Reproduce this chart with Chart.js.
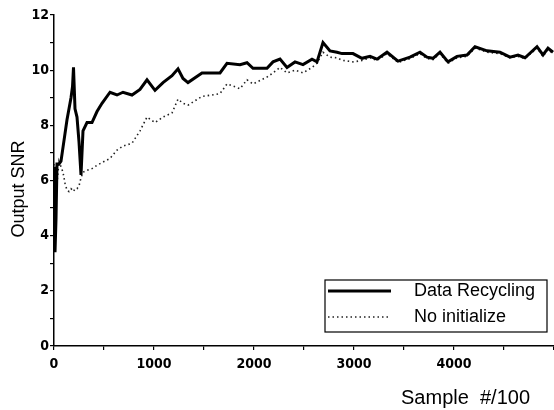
<!DOCTYPE html>
<html>
<head>
<meta charset="utf-8">
<script src="https://cdn.jsdelivr.net/npm/chart.js@4.4.0/dist/chart.umd.min.js"></script>
<style>
  html, body { margin: 0; padding: 0; background: #fff; }
  canvas { display: block; }
</style>
</head>
<body>
<canvas id="snr" width="554" height="410"></canvas>
<script>
// --- data (x = sample #/100) ---
const samples = [0, 10, 20, 30, 50, 70, 90, 110, 130, 150, 170, 185, 195, 210, 230, 250, 270, 290, 330, 380,
  430, 480, 560, 630, 690, 780, 860, 930, 1010, 1090, 1180, 1240, 1290, 1340, 1480, 1580, 1660, 1730, 1860, 1930,
  1990, 2130, 2190, 2260, 2330, 2410, 2490, 2580, 2630, 2690, 2760, 2830, 2880, 2990, 3080, 3160, 3230, 3330, 3440, 3560,
  3660, 3730, 3790, 3860, 3940, 4030, 4130, 4210, 4330, 4460, 4560, 4640, 4710, 4830, 4890, 4940, 4990];

const dataRecycling = [6.5, 3.4, 4.6, 6.6, 6.6, 6.7, 7.2, 7.7, 8.2, 8.6, 9.0, 9.4, 10.1, 8.6, 8.3, 7.4, 6.2, 7.8, 8.1, 8.1,
  8.5, 8.8, 9.2, 9.1, 9.2, 9.1, 9.3, 9.65, 9.27, 9.55, 9.8, 10.05, 9.7, 9.55, 9.9, 9.9, 9.9, 10.25, 10.2, 10.27,
  10.07, 10.07, 10.3, 10.4, 10.1, 10.3, 10.2, 10.4, 10.3, 11.0, 10.7, 10.65, 10.6, 10.6, 10.43, 10.5, 10.4, 10.65, 10.33, 10.47,
  10.65, 10.47, 10.43, 10.65, 10.3, 10.5, 10.55, 10.85, 10.7, 10.65, 10.47, 10.55, 10.45, 10.85, 10.55, 10.8, 10.65];

const noInitialize = [6.6, 5.6, 6.4, 5.9, 6.7, 6.5, 6.3, 5.9, 5.65, 5.6, 5.7, 5.65, 5.6, 5.7, 5.7, 5.8, 6.1, 6.3, 6.37, 6.43,
  6.55, 6.65, 6.8, 7.1, 7.25, 7.35, 7.8, 8.3, 8.1, 8.3, 8.45, 8.95, 8.8, 8.73, 9.05, 9.1, 9.15, 9.5, 9.33, 9.65,
  9.5, 9.75, 9.9, 10.1, 9.9, 10.0, 9.9, 10.1, 10.25, 10.65, 10.47, 10.45, 10.36, 10.3, 10.35, 10.45, 10.35, 10.6, 10.28, 10.42,
  10.6, 10.42, 10.38, 10.6, 10.25, 10.45, 10.5, 10.8, 10.65, 10.6, 10.45, 10.5, 10.42, 10.8, 10.5, 10.75, 10.6];

const seriesNames = ["Data Recycling", "No initialize"];
const xTitle = "Sample  #/100";
const yTitle = "Output SNR";

const tickFont = { family: "'Liberation Sans Narrow', 'Arial Narrow', 'DejaVu Sans Condensed', sans-serif", size: 14, weight: "bold" };

// legend box in the lower right of the plot, axis titles placed by hand
const boxLegend = {
  id: "boxLegend",
  afterDraw(chart) {
    const { ctx, chartArea } = chart;
    const right = chartArea.right - 7, bottom = chartArea.bottom - 14;
    const left = right - 222, top = bottom - 52;
    ctx.save();
    ctx.fillStyle = "#fff";
    ctx.fillRect(left, top, right - left, bottom - top);
    ctx.strokeStyle = "#000";
    ctx.lineWidth = 1.2;
    ctx.strokeRect(left, top, right - left, bottom - top);
    ctx.font = "18px 'Liberation Sans', Arial, sans-serif";
    ctx.textBaseline = "middle";
    ctx.fillStyle = "#000";
    chart.data.datasets.forEach((ds, i) => {
      const y = top + 11 + i * 26;
      ctx.beginPath();
      ctx.setLineDash(ds.borderDash || []);
      ctx.lineWidth = ds.borderWidth;
      ctx.strokeStyle = ds.borderColor;
      ctx.moveTo(left + 3, y);
      ctx.lineTo(left + 66, y);
      ctx.stroke();
      ctx.setLineDash([]);
      ctx.fillText(ds.label, left + 89, y);
    });
    // x axis title
    ctx.font = "20px 'Liberation Sans', Arial, sans-serif";
    ctx.textAlign = "right";
    ctx.fillText(xTitle, chartArea.right - 24, 398);
    // y axis title
    ctx.font = "18px 'Liberation Sans', Arial, sans-serif";
    ctx.textAlign = "center";
    ctx.translate(19, 189);
    ctx.rotate(-Math.PI / 2);
    ctx.fillText(yTitle, 0, 0);
    ctx.restore();
  }
};

const ctx = document.getElementById("snr").getContext("2d");
new Chart(ctx, {
  type: "line",
  data: {
    datasets: [{
      label: seriesNames[0],
      data: samples.map((x, i) => ({ x, y: dataRecycling[i] })),
      borderColor: "#000",
      borderWidth: 3,
      pointRadius: 0,
      tension: 0
    }, {
      label: seriesNames[1],
      data: samples.map((x, i) => ({ x, y: noInitialize[i] })),
      borderColor: "#222",
      borderWidth: 1.6,
      borderDash: [1.5, 3],
      pointRadius: 0,
      tension: 0
    }]
  },
  options: {
    responsive: false,
    animation: false,
    layout: { padding: { top: 15, right: 0, left: 0, bottom: 0 } },
    plugins: {
      legend: { display: false },
      tooltip: { enabled: false }
    },
    scales: {
      x: {
        type: "linear",
        min: 0,
        max: 5000,
        afterFit: s => { s.height = 64; s.paddingRight = 0; s.paddingLeft = 0; },
        border: { color: "#000", width: 1.5 },
        grid: { drawOnChartArea: false, drawTicks: true, tickLength: 4, color: "#000", lineWidth: 1.2 },
        ticks: {
          stepSize: 500,
          autoSkip: false,
          maxRotation: 0,
          padding: 6,
          color: "#000",
          font: tickFont,
          callback: v => (v % 1000 === 0 && v < 5000 ? String(v) : "")
        }
      },
      y: {
        min: 0,
        max: 12,
        afterFit: s => { s.width = 54; },
        border: { color: "#000", width: 1.5 },
        grid: { drawOnChartArea: false, drawTicks: true, tickLength: 4, color: "#000", lineWidth: 1.2 },
        ticks: {
          stepSize: 1,
          autoSkip: false,
          padding: 1,
          color: "#000",
          font: tickFont,
          callback: v => (v % 2 === 0 ? String(v) : "")
        }
      }
    }
  },
  plugins: [boxLegend]
});
</script>
</body>
</html>
